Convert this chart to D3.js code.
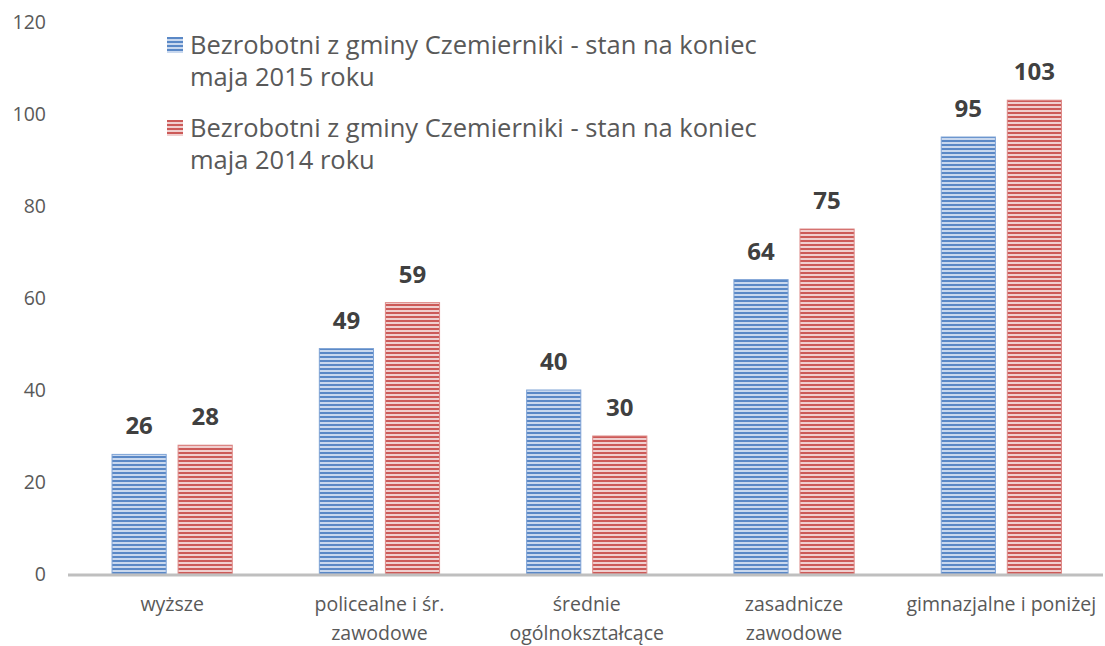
<!DOCTYPE html>
<html>
<head>
<meta charset="utf-8">
<script src="https://cdn.jsdelivr.net/npm/d3@7"></script>
<style>
  body { margin: 0; background: #fff; }
  text { font-family: "Open Sans", "Noto Sans", sans-serif; }
</style>
</head>
<body>
<div class="bar-chart"></div>
<script>
// categories (two-line labels) and series
var categories = [
  ["wyższe"],
  ["policealne i śr.", "zawodowe"],
  ["średnie", "ogólnokształcące"],
  ["zasadnicze", "zawodowe"],
  ["gimnazjalne i poniżej"]
];
var series2015 = [26, 49, 40, 64, 95];
var series2014 = [28, 59, 30, 75, 103];
var seriesNames = [
  ["Bezrobotni z gminy Czemierniki - stan na koniec", "maja 2015 roku"],
  ["Bezrobotni z gminy Czemierniki - stan na koniec", "maja 2014 roku"]
];
var yTicks = [0, 20, 40, 60, 80, 100, 120];

var width = 1105, height = 646;
var margin = { left: 68.5, right: 0, top: 22, bottom: 72 };

var svg = d3.select(".bar-chart").append("svg")
    .attr("width", width)
    .attr("height", height);

// stripe patterns
var defs = svg.append("defs");
function stripes(id, dark, light) {
    var p = defs.append("pattern")
        .attr("id", id)
        .attr("patternUnits", "userSpaceOnUse")
        .attr("width", 4).attr("height", 4);
    p.append("rect").attr("width", 4).attr("height", 4).attr("fill", light);
    p.append("rect").attr("y", 0).attr("width", 4).attr("height", 2).attr("fill", dark);
}
stripes("blueStripe", "#5a88c6", "#c9d8ee");
stripes("redStripe", "#cc5a58", "#f0cfcf");
var fills = ["url(#blueStripe)", "url(#redStripe)"];
var strokes = ["#7ea3d6", "#dd8a88"];

var x0 = d3.scaleBand()
    .domain(d3.range(categories.length))
    .range([margin.left, width - margin.right])
    .paddingInner(0.42)
    .paddingOuter(0.21);

var x1 = d3.scaleBand()
    .domain([0, 1])
    .range([0, x0.bandwidth()])
    .paddingInner(0.18);

var y = d3.scaleLinear()
    .domain([0, 120])
    .range([height - margin.bottom, margin.top]);

// y tick labels
svg.append("g").selectAll("text")
    .data(yTicks)
    .enter().append("text")
    .attr("x", 46)
    .attr("y", function(d) { return y(d); })
    .attr("dy", "0.35em")
    .attr("text-anchor", "end")
    .attr("fill", "#595959")
    .attr("font-size", 19.5)
    .text(function(d) { return d; });

var data = categories.map(function(c, i) { return [series2015[i], series2014[i]]; });

var groups = svg.append("g").selectAll("g")
    .data(data)
    .enter().append("g")
    .attr("transform", function(d, i) { return "translate(" + x0(i) + ",0)"; });

groups.selectAll("rect")
    .data(function(d) { return d; })
    .enter().append("rect")
    .attr("x", function(d, j) { return x1(j); })
    .attr("y", function(d) { return y(d); })
    .attr("width", x1.bandwidth())
    .attr("height", function(d) { return y(0) - y(d); })
    .attr("fill", function(d, j) { return fills[j]; })
    .attr("stroke", function(d, j) { return strokes[j]; })
    .attr("stroke-width", 1);

groups.selectAll("text.val")
    .data(function(d) { return d; })
    .enter().append("text")
    .attr("class", "val")
    .attr("x", function(d, j) { return x1(j) + x1.bandwidth() / 2; })
    .attr("y", function(d) { return y(d) - 20; })
    .attr("text-anchor", "middle")
    .attr("fill", "#404040")
    .attr("font-size", 24)
    .attr("font-weight", "bold")
    .text(function(d) { return d; });

// x axis line
svg.append("line")
    .attr("x1", 68).attr("x2", 1103)
    .attr("y1", y(0) + 1).attr("y2", y(0) + 1)
    .attr("stroke", "#bfbfbf")
    .attr("stroke-width", 3);

// category labels
svg.append("g").selectAll("text")
    .data(categories)
    .enter().append("text")
    .attr("x", function(d, i) { return x0(i) + x0.bandwidth() / 2; })
    .attr("y", y(0) + 37)
    .attr("text-anchor", "middle")
    .attr("fill", "#595959")
    .attr("font-size", 19.5)
    .each(function(d) {
        var t = d3.select(this);
        d.forEach(function(line, k) {
            t.append("tspan")
                .attr("x", t.attr("x"))
                .attr("dy", k === 0 ? 0 : 29)
                .text(line);
        });
    });

// legend
var legend = svg.append("g").selectAll("g")
    .data(seriesNames)
    .enter().append("g")
    .attr("transform", function(d, i) { return "translate(167," + (45 + i * 83) + ")"; });

legend.append("rect")
    .attr("x", 0).attr("y", -8)
    .attr("width", 16).attr("height", 16)
    .attr("fill", function(d, i) { return fills[i]; });

legend.append("text")
    .attr("x", 23)
    .attr("y", 0)
    .attr("fill", "#595959")
    .attr("font-size", 25.5)
    .each(function(d) {
        var t = d3.select(this);
        d.forEach(function(line, k) {
            t.append("tspan")
                .attr("x", 23)
                .attr("dy", k === 0 ? "0.35em" : 32)
                .text(line);
        });
    });
</script>
</body>
</html>
